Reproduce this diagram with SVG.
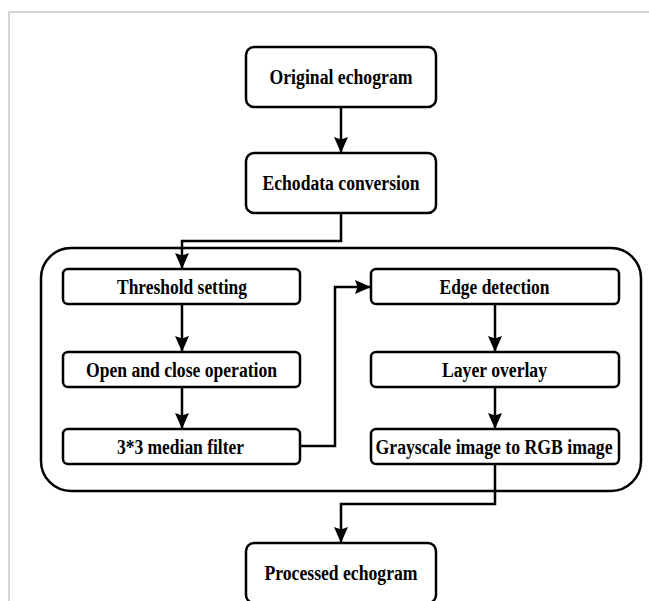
<svg xmlns="http://www.w3.org/2000/svg" width="649" height="601" viewBox="0 0 649 601">
<defs>
<style>
.box{fill:#fff;stroke:#000;stroke-width:2.5}
.frame{fill:none;stroke:#000;stroke-width:2.5}
.lbl{font-family:"Liberation Serif","Times New Roman",serif;font-weight:bold;font-size:20px;fill:#000;text-anchor:middle}
.con{fill:none;stroke:#000;stroke-width:2.5;marker-end:url(#ah)}
.edge{stroke:#c8c8c8;stroke-width:1.5;fill:none}
</style>
<marker id="ah" markerUnits="userSpaceOnUse" markerWidth="17" markerHeight="15" refX="16" refY="7" orient="auto">
<path d="M0,0 L16,7 L0,14 L2.5,7 z" fill="#000"/>
</marker>
</defs>
<rect width="649" height="601" fill="#fff"/>
<path class="edge" d="M9,601 V12 H649"/>
<g id="container"><rect class="frame" x="41" y="248" width="600" height="243" rx="30"/></g>
<g id="connectors">
<path class="con" d="M341,107 V153"/>
<path class="con" d="M341,213 V241 H182 V269"/>
<path class="con" d="M182,304 V352"/>
<path class="con" d="M182,387 V429"/>
<path class="con" d="M300,446 H335 V287 H371"/>
<path class="con" d="M495,304 V352"/>
<path class="con" d="M495,387 V429"/>
<path class="con" d="M495,464 V504 H341 V543"/>
</g>
<g id="original"><rect class="box" x="246" y="47" width="190" height="60" rx="8"/><text class="lbl" x="341" y="84" textLength="143" lengthAdjust="spacingAndGlyphs">Original echogram</text></g>
<g id="echodata"><rect class="box" x="246" y="153" width="190" height="60" rx="8"/><text class="lbl" x="341" y="190" textLength="157" lengthAdjust="spacingAndGlyphs">Echodata conversion</text></g>
<g id="threshold"><rect class="box" x="63" y="269" width="237" height="35" rx="5"/><text class="lbl" x="182" y="294" textLength="130" lengthAdjust="spacingAndGlyphs">Threshold setting</text></g>
<g id="openclose"><rect class="box" x="63" y="352" width="237" height="35" rx="5"/><text class="lbl" x="181.5" y="377" textLength="191" lengthAdjust="spacingAndGlyphs">Open and close operation</text></g>
<g id="median"><rect class="box" x="63" y="429" width="237" height="35" rx="5"/><text class="lbl" x="180.5" y="454" textLength="127" lengthAdjust="spacingAndGlyphs">3*3 median filter</text></g>
<g id="edgedet"><rect class="box" x="371" y="269" width="248" height="35" rx="5"/><text class="lbl" x="494.5" y="294" textLength="110" lengthAdjust="spacingAndGlyphs">Edge detection</text></g>
<g id="layer"><rect class="box" x="371" y="352" width="248" height="35" rx="5"/><text class="lbl" x="494.5" y="377" textLength="105" lengthAdjust="spacingAndGlyphs">Layer overlay</text></g>
<g id="grayscale"><rect class="box" x="371" y="429" width="248" height="35" rx="5"/><text class="lbl" x="494" y="454" textLength="237" lengthAdjust="spacingAndGlyphs">Grayscale image to RGB image</text></g>
<g id="processed"><rect class="box" x="246" y="543" width="190" height="60" rx="8"/><text class="lbl" x="341" y="580" textLength="153" lengthAdjust="spacingAndGlyphs">Processed echogram</text></g>
</svg>
